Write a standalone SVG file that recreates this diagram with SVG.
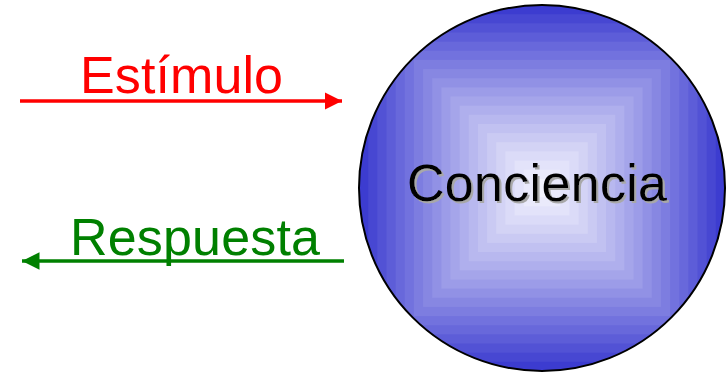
<svg xmlns="http://www.w3.org/2000/svg" width="728" height="374" viewBox="0 0 728 374">
<style>
.lbl{font-family:"Liberation Sans",Arial,sans-serif;font-size:52px}
</style>
<defs>
<clipPath id="cc"><circle cx="542" cy="188" r="183"/></clipPath>
<filter id="shadow" x="-5%" y="-20%" width="110%" height="140%">
<feOffset in="SourceAlpha" dx="2" dy="2" result="o"/>
<feFlood flood-color="#a8a8a8"/>
<feComposite in2="o" operator="in" result="s"/>
<feMerge><feMergeNode in="s"/><feMergeNode in="SourceGraphic"/></feMerge>
</filter>
<marker id="ahR" viewBox="0 0 10 10" refX="10" refY="5" markerWidth="5" markerHeight="5" markerUnits="strokeWidth" orient="auto"><path d="M0,0 L10,5 L0,10 Z" fill="#ff0000"/></marker>
<marker id="ahG" viewBox="0 0 10 10" refX="10" refY="5" markerWidth="5" markerHeight="5" markerUnits="strokeWidth" orient="auto"><path d="M0,0 L10,5 L0,10 Z" fill="#008000"/></marker>
</defs>
<rect width="728" height="374" fill="#ffffff"/>
<g id="connectors">
<line x1="20" y1="101" x2="342" y2="101" stroke="#ff0000" stroke-width="3.5" marker-end="url(#ahR)"/>
<line x1="344" y1="261" x2="22" y2="261" stroke="#008000" stroke-width="3.5" marker-end="url(#ahG)"/>
</g>
<g id="estimulo"><text class="lbl" x="80" y="93" fill="#ff0000" textLength="203">Estímulo</text></g>
<g id="respuesta"><text class="lbl" x="70" y="255" fill="#008000" textLength="250">Respuesta</text></g>
<g id="conciencia">
<g clip-path="url(#cc)">
<rect x="359" y="5" width="366" height="366" fill="rgb(60,60,208)"/>
<rect x="368.15" y="14.15" width="347.7" height="347.7" fill="rgb(71,71,210)"/>
<rect x="377.3" y="23.3" width="329.4" height="329.4" fill="rgb(82,82,213)"/>
<rect x="386.45" y="32.45" width="311.1" height="311.1" fill="rgb(93,93,216)"/>
<rect x="395.6" y="41.6" width="292.8" height="292.8" fill="rgb(104,104,219)"/>
<rect x="404.75" y="50.75" width="274.5" height="274.5" fill="rgb(114,114,222)"/>
<rect x="413.9" y="59.9" width="256.2" height="256.2" fill="rgb(125,125,224)"/>
<rect x="423.05" y="69.05" width="237.9" height="237.9" fill="rgb(135,135,226)"/>
<rect x="432.2" y="78.2" width="219.6" height="219.6" fill="rgb(145,145,229)"/>
<rect x="441.35" y="87.35" width="201.3" height="201.3" fill="rgb(156,156,232)"/>
<rect x="450.5" y="96.5" width="183" height="183" fill="rgb(165,165,234)"/>
<rect x="459.65" y="105.65" width="164.7" height="164.7" fill="rgb(175,175,237)"/>
<rect x="468.8" y="114.8" width="146.4" height="146.4" fill="rgb(184,184,239)"/>
<rect x="477.95" y="123.95" width="128.1" height="128.1" fill="rgb(193,193,241)"/>
<rect x="487.1" y="133.1" width="109.8" height="109.8" fill="rgb(202,202,243)"/>
<rect x="496.25" y="142.25" width="91.5" height="91.5" fill="rgb(211,211,245)"/>
<rect x="505.4" y="151.4" width="73.2" height="73.2" fill="rgb(219,219,248)"/>
<rect x="514.55" y="160.55" width="54.9" height="54.9" fill="rgb(227,227,250)"/>
<rect x="523.7" y="169.7" width="36.6" height="36.6" fill="rgb(234,234,251)"/>
<rect x="532.85" y="178.85" width="18.3" height="18.3" fill="rgb(242,242,253)"/>
</g>
<circle cx="542" cy="188" r="183" fill="none" stroke="#000000" stroke-width="2"/>
<text class="lbl" x="407" y="201" fill="#000000" filter="url(#shadow)" textLength="260">Conciencia</text>
</g>
</svg>
